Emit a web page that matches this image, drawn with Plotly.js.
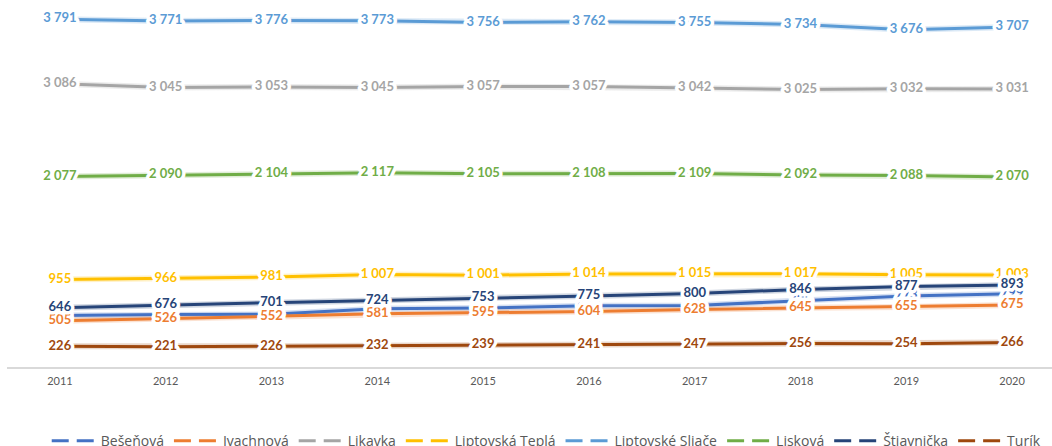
<!DOCTYPE html>
<html>
<head>
<meta charset="utf-8">
<script src="https://cdn.plot.ly/plotly-3.0.1.min.js"></script>
<style>
    html, body { margin: 0; padding: 0; background: #fff; }
    #chart { width: 1052px; height: 446px; }
    /* white outline round the data labels, so they cut through the lines */
    #chart .textpoint text {
        stroke: #fff !important;
        stroke-width: 7px !important;
        stroke-linejoin: round;
        paint-order: stroke;
    }
    /* longer legend samples, as in the original */
    #chart .legendlines path { d: path('M5,0h42'); }
</style>
</head>
<body>
<div id="chart"></div>
<script>
// Data
const YEARS = ['2011', '2012', '2013', '2014', '2015', '2016', '2017', '2018', '2019', '2020'];

const BESENOVA = [561, 572, 574, 635, 642, 667, 671, 725, 773, 799];
const IVACHNOVA = [505, 526, 552, 581, 595, 604, 628, 645, 655, 675];
const LIKAVKA = [3086, 3045, 3053, 3045, 3057, 3057, 3042, 3025, 3032, 3031];
const LIPTOVSKA_TEPLA = [955, 966, 981, 1007, 1001, 1014, 1015, 1017, 1005, 1003];
const LIPTOVSKE_SLIACE = [3791, 3771, 3776, 3773, 3756, 3762, 3755, 3734, 3676, 3707];
const LISKOVA = [2077, 2090, 2104, 2117, 2105, 2108, 2109, 2092, 2088, 2070];
const STIAVNICKA = [646, 676, 701, 724, 753, 775, 800, 846, 877, 893];
const TURIK = [226, 221, 226, 232, 239, 241, 247, 256, 254, 266];

const SERIES = [
    { name: 'Bešeňová', values: BESENOVA, color: '#4472C4' },
    { name: 'Ivachnová', values: IVACHNOVA, color: '#ED7D31' },
    { name: 'Likavka', values: LIKAVKA, color: '#A5A5A5' },
    { name: 'Liptovská Teplá', values: LIPTOVSKA_TEPLA, color: '#FFC000' },
    { name: 'Liptovské Sliače', values: LIPTOVSKE_SLIACE, color: '#5B9BD5' },
    { name: 'Lisková', values: LISKOVA, color: '#70AD47' },
    { name: 'Štiavnička', values: STIAVNICKA, color: '#264478' },
    { name: 'Turík', values: TURIK, color: '#9E480E' }
];

const FONT = 'Lato, "Open Sans", sans-serif';

// Utility
function formatValue(v) {
    return String(v).replace(/\B(?=(\d{3})+(?!\d))/g, ' ');
}

function hexToRgba(hex, alpha) {
    const n = parseInt(hex.slice(1), 16);
    return `rgba(${(n >> 16) & 255},${(n >> 8) & 255},${n & 255},${alpha})`;
}

// Traces: soft halo, line, then labels on top of everything
const halos = SERIES.map(s => ({
    x: YEARS, y: s.values, type: 'scatter', mode: 'lines',
    line: { color: hexToRgba(s.color, 0.22), width: 6 },
    showlegend: false, hoverinfo: 'skip'
}));

const lines = SERIES.map(s => ({
    x: YEARS, y: s.values, type: 'scatter', mode: 'lines',
    name: s.name,
    line: { color: s.color, width: 3 },
    showlegend: false
}));

const labels = SERIES.map(s => ({
    x: YEARS, y: s.values, type: 'scatter', mode: 'text',
    text: s.values.map(formatValue),
    textposition: 'middle center',
    textfont: { family: FONT, size: 13, weight: 'bold', color: s.color },
    cliponaxis: false,
    showlegend: false, hoverinfo: 'skip'
}));

const legendItems = SERIES.map(s => ({
    x: [null], y: [null], type: 'scatter', mode: 'lines',
    name: s.name,
    line: { color: s.color, width: 3, dash: '17px,8px' }
}));

const layout = {
    width: 1052,
    height: 446,
    margin: { l: 7, r: 0, t: 0, b: 0, autoexpand: false },
    paper_bgcolor: '#fff',
    plot_bgcolor: '#fff',
    xaxis: {
        type: 'category',
        range: [-0.5, 9.377],
        showgrid: false,
        zeroline: false,
        showline: true,
        linecolor: '#d9d9d9',
        linewidth: 1.5,
        ticks: '',
        ticklabelstandoff: 3,
        tickfont: { family: FONT, size: 11, color: '#595959' },
        fixedrange: true
    },
    yaxis: {
        range: [0, 4000],
        domain: [79 / 446, 1],
        visible: false,
        fixedrange: true
    },
    showlegend: true,
    legend: {
        orientation: 'h',
        x: 0.516,
        xanchor: 'center',
        y: -0.025,
        yanchor: 'bottom',
        font: { family: '"Open Sans", sans-serif', size: 14, color: '#595959' },
        itemwidth: 44,
        tracegroupgap: 0
    }
};

Plotly.newPlot('chart', [...halos, ...lines, ...labels, ...legendItems], layout, { displayModeBar: false, staticPlot: true });
</script>
</body>
</html>
